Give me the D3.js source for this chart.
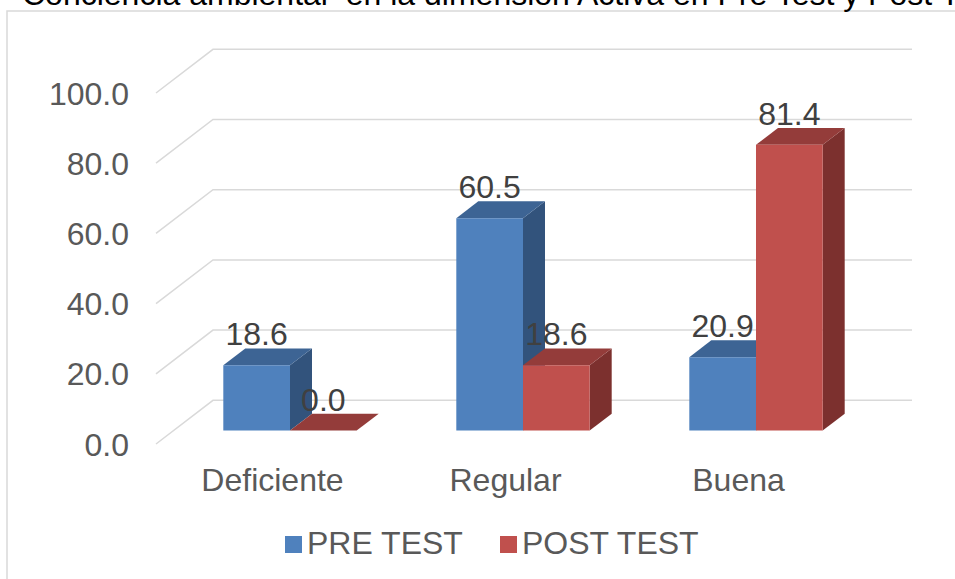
<!DOCTYPE html>
<html>
<head>
<meta charset="utf-8">
<script src="https://d3js.org/d3.v7.min.js"></script>
<style>
  body { margin: 0; background: #fff; }
  text { font-family: "Liberation Sans", Arial, sans-serif; }
</style>
</head>
<body>
<div id="my_dataviz"></div>
<script>
// chart data
var title = "Conciencia ambiental  en la dimensión Activa en Pre Test y Post Test";
var categories = ["Deficiente", "Regular", "Buena"];
var series = ["PRE TEST", "POST TEST"];
var preTest = [18.6, 60.5, 20.9];
var postTest = [0.0, 18.6, 81.4];
var yTicks = [0, 20, 40, 60, 80, 100];

var width = 955, height = 579;

// 3d depth of the floor, and where the bars sit in it
var depthX = 57, depthY = 43.7;
var barFront = 0.307, barBack = 0.693;

var colors = {
  "PRE TEST":  {front: "#4f81bd", top: "#3d6494", side: "#32537c"},
  "POST TEST": {front: "#c0504d", top: "#943c3a", side: "#7c302e"}
};

var svg = d3.select("#my_dataviz")
  .append("svg")
    .attr("width", width)
    .attr("height", height);

// chart border
svg.append("rect")
  .attr("x", 7)
  .attr("y", 11)
  .attr("width", 1000)
  .attr("height", 700)
  .attr("fill", "none")
  .attr("stroke", "#d9d9d9")
  .attr("stroke-width", 1.5);

// title (cut at the top like the original)
svg.append("text")
  .attr("x", 22)
  .attr("y", 5)
  .style("white-space", "pre")
  .style("font-size", "32px")
  .attr("fill", "#000")
  .text(title);

// scales
var x0 = d3.scaleBand()
  .domain(categories)
  .range([156, 855])
  .paddingInner(0.4275)
  .paddingOuter(0.21375);

var x1 = d3.scaleBand()
  .domain(series)
  .range([0, x0.bandwidth()]);

var y = d3.scaleLinear()
  .domain([0, 100])
  .range([444, 93]);

function proj(xv, v, t) {
  return [xv + t * depthX, y(v) - t * depthY];
}

// gridlines: side wall diagonal + back wall
svg.append("g")
  .selectAll("path")
  .data(yTicks)
  .enter()
  .append("path")
    .attr("d", function (d) {
      var a = proj(x0.range()[0], d, 0),
          b = proj(x0.range()[0], d, 1),
          c = proj(x0.range()[1], d, 1);
      return "M" + a + "L" + b + "L" + c;
    })
    .attr("fill", "none")
    .attr("stroke", "#d9d9d9")
    .attr("stroke-width", 1.5);

// y tick labels
svg.append("g")
  .selectAll("text")
  .data(yTicks)
  .enter()
  .append("text")
    .attr("x", 129)
    .attr("y", function (d) { return y(d) + 11.5; })
    .attr("text-anchor", "end")
    .style("font-size", "32px")
    .attr("fill", "#595959")
    .text(d3.format(".1f"));

// bars
var bars = [];
categories.forEach(function (c, i) {
  bars.push({cat: c, s: "PRE TEST", v: preTest[i]});
  bars.push({cat: c, s: "POST TEST", v: postTest[i]});
});

function poly(pts) { return pts.map(function (p) { return p.join(","); }).join(" "); }

var barG = svg.append("g")
  .selectAll("g")
  .data(bars)
  .enter()
  .append("g");

barG.append("polygon")
  .attr("points", function (d) {
    var xl = x0(d.cat) + x1(d.s), xr = xl + x1.bandwidth();
    return poly([proj(xr, 0, barFront), proj(xr, d.v, barFront), proj(xr, d.v, barBack), proj(xr, 0, barBack)]);
  })
  .attr("fill", function (d) { return colors[d.s].side; });

barG.append("polygon")
  .attr("points", function (d) {
    var xl = x0(d.cat) + x1(d.s), xr = xl + x1.bandwidth();
    return poly([proj(xl, d.v, barFront), proj(xr, d.v, barFront), proj(xr, d.v, barBack), proj(xl, d.v, barBack)]);
  })
  .attr("fill", function (d) { return colors[d.s].top; });

barG.append("polygon")
  .attr("points", function (d) {
    var xl = x0(d.cat) + x1(d.s), xr = xl + x1.bandwidth();
    return poly([proj(xl, 0, barFront), proj(xr, 0, barFront), proj(xr, d.v, barFront), proj(xl, d.v, barFront)]);
  })
  .attr("fill", function (d) { return colors[d.s].front; });

// value labels
svg.append("g")
  .selectAll("text")
  .data(bars)
  .enter()
  .append("text")
    .attr("x", function (d) { return x0(d.cat) + x1(d.s) + x1.bandwidth() / 2 + barFront * depthX; })
    .attr("y", function (d) { return y(d.v) - barFront * depthY - 20; })
    .attr("text-anchor", "middle")
    .style("font-size", "32px")
    .attr("fill", "#404040")
    .text(function (d) { return d3.format(".1f")(d.v); });

// category labels
svg.append("g")
  .selectAll("text")
  .data(categories)
  .enter()
  .append("text")
    .attr("x", function (d) { return x0(d) - x0.step() * x0.paddingInner() / 2 + x0.step() / 2; })
    .attr("y", 491)
    .attr("text-anchor", "middle")
    .style("font-size", "32px")
    .attr("fill", "#595959")
    .text(function (d) { return d; });

// legend
var legendX = [285, 500];
var legend = svg.append("g")
  .selectAll("g")
  .data(series)
  .enter()
  .append("g")
    .attr("transform", function (d, i) { return "translate(" + legendX[i] + ",536)"; });

legend.append("rect")
  .attr("width", 17)
  .attr("height", 17)
  .attr("fill", function (d) { return colors[d].front; });

legend.append("text")
  .attr("x", 22)
  .attr("y", 18)
  .style("font-size", "32px")
  .attr("fill", "#595959")
  .text(function (d) { return d; });
</script>
</body>
</html>
